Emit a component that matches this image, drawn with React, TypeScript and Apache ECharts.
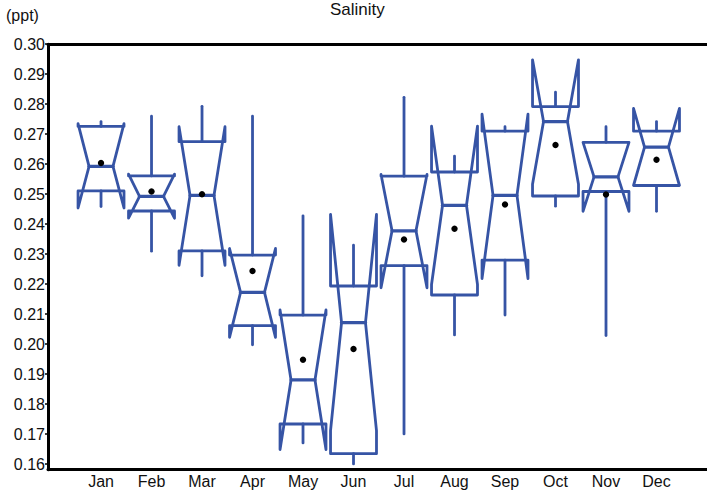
import React, { useEffect, useRef } from "react";
import * as echarts from "echarts";

const months = ["Jan", "Feb", "Mar", "Apr", "May", "Jun", "Jul", "Aug", "Sep", "Oct", "Nov", "Dec"];
const mins = [0.2459, 0.231, 0.2228, 0.1998, 0.1671, 0.1601, 0.1701, 0.2031, 0.2097, 0.246, 0.2029, 0.2443];
const q1s = [0.2511, 0.2444, 0.2311, 0.2062, 0.1734, 0.1635, 0.2262, 0.2164, 0.228, 0.2494, 0.2509, 0.2529];
const notchLo = [0.2454, 0.242, 0.2263, 0.2023, 0.1649, 0.1712, 0.2188, 0.2199, 0.2219, 0.2533, 0.2443, 0.2529];
const medians = [0.2593, 0.2493, 0.2496, 0.2173, 0.1881, 0.2072, 0.2378, 0.2463, 0.2496, 0.2742, 0.2558, 0.2657];
const notchHi = [0.2735, 0.2567, 0.2725, 0.2319, 0.2114, 0.2433, 0.2566, 0.2727, 0.2767, 0.2948, 0.2673, 0.2786];
const q3s = [0.2726, 0.2561, 0.2675, 0.2297, 0.2097, 0.2194, 0.256, 0.2574, 0.271, 0.2792, 0.2673, 0.271];
const maxs = [0.2742, 0.276, 0.2793, 0.276, 0.2428, 0.233, 0.2823, 0.2627, 0.2725, 0.284, 0.2725, 0.2742];
const means = [0.2604, 0.2509, 0.25, 0.2244, 0.1948, 0.1984, 0.2349, 0.2385, 0.2466, 0.2664, 0.2499, 0.2615];
const yTicks = [0.16, 0.17, 0.18, 0.19, 0.2, 0.21, 0.22, 0.23, 0.24, 0.25, 0.26, 0.27, 0.28, 0.29, 0.3];
const xTicks = [1, 2, 3, 4, 5, 6, 7, 8, 9, 10, 11, 12];

const FONT = "'Liberation Sans', Arial, Helvetica, sans-serif";
const BLUE = "#3654A5";

export default function App() {
  const ref = useRef<HTMLDivElement>(null);
  useEffect(() => {
    if (!ref.current) return;
    const chart = echarts.init(ref.current, undefined, { renderer: "svg" });
    const data = months.map((_, i) => [
      i + 1, mins[i], q1s[i], notchLo[i], medians[i], notchHi[i], q3s[i], maxs[i], means[i],
    ]);
    const renderItem = (params: any, api: any) => {
      const x = api.value(0);
      const P = (v: number) => api.coord([x, v]);
      const unit = api.size([1, 0])[0];
      const hw = unit * 0.455;
      const ww = unit * 0.237;
      const cx = P(api.value(4))[0];
      const yMin = P(api.value(1))[1];
      const yQ1 = P(api.value(2))[1];
      const yNLo = P(api.value(3))[1];
      const yMed = P(api.value(4))[1];
      const yNHi = P(api.value(5))[1];
      const yQ3 = P(api.value(6))[1];
      const yMax = P(api.value(7))[1];
      const yMean = P(api.value(8))[1];
      const xL = cx - hw, xR = cx + hw, wL = cx - ww, wR = cx + ww;
      const pts = [
        [xL, yQ1], [xL, yNLo], [wL, yMed], [xL, yNHi], [xL, yQ3],
        [xR, yQ3], [xR, yNHi], [wR, yMed], [xR, yNLo], [xR, yQ1], [xL, yQ1],
      ];
      const ls = { stroke: BLUE, lineWidth: 2.8, fill: "none", lineJoin: "round", lineCap: "round" };
      return {
        type: "group",
        children: [
          { type: "line", shape: { x1: cx, y1: yQ3, x2: cx, y2: yMax }, style: ls },
          { type: "line", shape: { x1: cx, y1: yQ1, x2: cx, y2: yMin }, style: ls },
          { type: "polyline", shape: { points: pts }, style: ls },
          { type: "line", shape: { x1: wL, y1: yMed, x2: wR, y2: yMed }, style: { ...ls, lineWidth: 3.3 } },
          { type: "circle", shape: { cx, cy: yMean, r: 3.2 }, style: { fill: "#000" } },
        ],
      };
    };
    chart.setOption({
      animation: false,
      backgroundColor: "#fff",
      grid: { left: 48, right: 0, top: 44.2, bottom: 23.3 },
      title: {
        text: "Salinity",
        left: 330,
        top: 0,
        padding: [1, 0, 0, 0],
        textStyle: { fontFamily: FONT, fontSize: 17, fontWeight: "normal", color: "#111" },
      },
      graphic: [
        {
          type: "text",
          left: 6,
          top: 7,
          style: { text: "(ppt)", font: `16px ${FONT}`, fill: "#111" },
        },
      ],
      xAxis: [
        {
          type: "value",
          min: -0.05,
          max: 13.0,
          position: "bottom",
          splitLine: { show: false },
          axisLine: { show: true, onZero: false, lineStyle: { color: "#000", width: 3 } },
          axisTick: { show: false, customValues: xTicks },
          axisLabel: {
            customValues: xTicks,
            formatter: (v: number) => months[Math.round(v) - 1] ?? "",
            fontFamily: FONT,
            fontSize: 16,
            color: "#111",
            margin: 4,
          },
        },
        {
          type: "value",
          min: -0.05,
          max: 13.0,
          position: "top",
          splitLine: { show: false },
          axisLine: { show: true, onZero: false, lineStyle: { color: "#000", width: 3 } },
          axisTick: { show: false },
          axisLabel: { show: false },
        },
      ],
      yAxis: {
        type: "value",
        min: 0.15817,
        max: 0.3,
        splitLine: { show: false },
        axisLine: { show: true, onZero: false, lineStyle: { color: "#000", width: 3 } },
        axisTick: { show: true, length: 3, customValues: yTicks, lineStyle: { color: "#000", width: 1.5 } },
        axisLabel: {
          customValues: yTicks,
          formatter: (v: number) => v.toFixed(2),
          fontFamily: FONT,
          fontSize: 16,
          color: "#111",
          margin: 3,
        },
      },
      series: [
        {
          type: "custom",
          renderItem,
          data,
          encode: { x: 0, y: [1, 2, 3, 4, 5, 6, 7, 8] },
          clip: false,
        },
      ],
    });
    return () => chart.dispose();
  }, []);
  return (
    <div
      ref={ref}
      style={{ position: "absolute", left: 0, top: 0, width: 707, height: 493, background: "#fff" }}
    />
  );
}
